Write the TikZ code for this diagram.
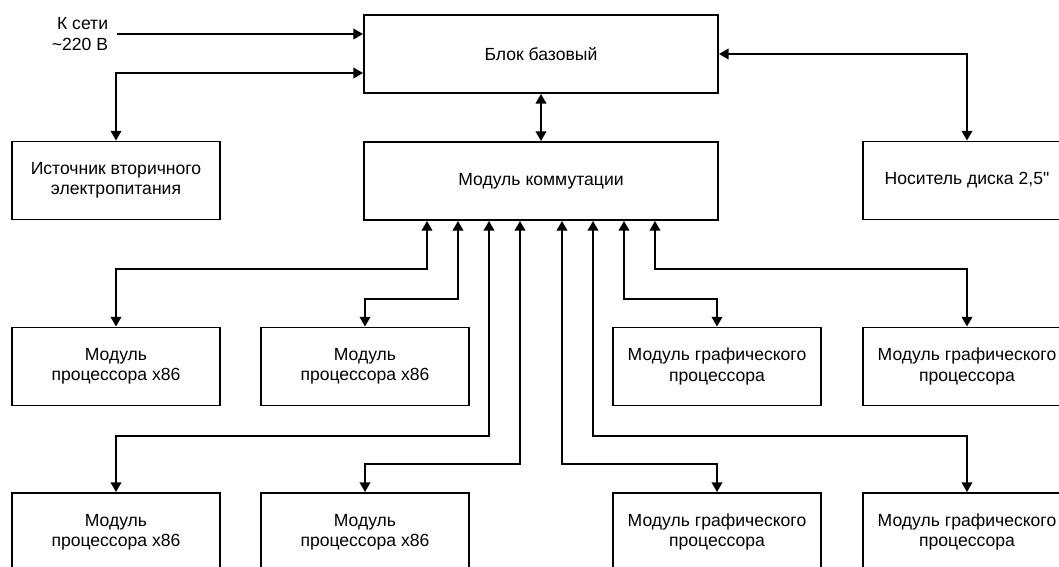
\documentclass[tikz,border=0pt]{standalone}
\usepackage{fontspec}
\setmainfont{Liberation Sans}
\usetikzlibrary{arrows.meta,calc}
\begin{document}
\begin{tikzpicture}[x = 0.02cm, y = -0.02cm,
	box/.style = {draw, line width=1.1pt, minimum width=4.16cm, minimum height=1.56cm, align=center, inner sep=0pt},
	wide/.style = {box, minimum width=7.08cm},
	link/.style = {line width=1.1pt, {Triangle[width=6pt,length=5.5pt]}-{Triangle[width=6pt,length=5.5pt]}},
	every node/.style = {font=\fontsize{10}{11.5}\selectfont}]
	\useasboundingbox (0, 0) rectangle (1059, 567);
	\clip (0, 0) rectangle (1059, 567);

	% Nodes
	\node[wide] (blok) at (541, 54) {Блок базовый};
	\node[wide] (komm) at (541, 181) {Модуль коммутации};
	\node[box] (ist) at (116, 180.5) {Источник вторичного\\электропитания};
	\node[box] (nos) at (967, 180.5) {Носитель диска 2,5\textquotedbl};
	\node[align=right, inner sep=0pt] (mains) at (80, 34) {К сети\\\textasciitilde220 В};

	\node[box] (cpu1) at (116, 366.5) {Модуль\\процессора x86};
	\node[box] (cpu2) at (365, 366.5) {Модуль\\процессора x86};
	\node[box] (gpu1) at (717, 366.5) {Модуль графического\\процессора};
	\node[box] (gpu2) at (967, 366.5) {Модуль графического\\процессора};

	\node[box] (cpu3) at (116, 532) {Модуль\\процессора x86};
	\node[box] (cpu4) at (365, 532) {Модуль\\процессора x86};
	\node[box] (gpu3) at (717, 532) {Модуль графического\\процессора};
	\node[box] (gpu4) at (967, 532) {Модуль графического\\процессора};

	% Edges
	\draw[line width=1.1pt, -{Triangle[width=6pt,length=5.5pt]}] ([xshift=5pt]mains.east) -- (mains.east -| blok.west);
	\draw[link] ($(blok.west)+(0,19)$) -| (ist.north);
	\draw[link] (blok.east) -| (nos.north);
	\draw[link] (blok.south) -- (komm.north);

	\draw[link] ($(komm.south)+(-114,0)$) -- ++(0,48) -| (cpu1.north);
	\draw[link] ($(komm.south)+(-83,0)$) -- ++(0,78) -| (cpu2.north);
	\draw[link] ($(komm.south)+(-52,0)$) -- ++(0,215) -| (cpu3.north);
	\draw[link] ($(komm.south)+(-21,0)$) -- ++(0,243) -| (cpu4.north);
	\draw[link] ($(komm.south)+(21,0)$) -- ++(0,243) -| (gpu3.north);
	\draw[link] ($(komm.south)+(52,0)$) -- ++(0,215) -| (gpu4.north);
	\draw[link] ($(komm.south)+(83,0)$) -- ++(0,78) -| (gpu1.north);
	\draw[link] ($(komm.south)+(114,0)$) -- ++(0,48) -| (gpu2.north);
\end{tikzpicture}
\end{document}
